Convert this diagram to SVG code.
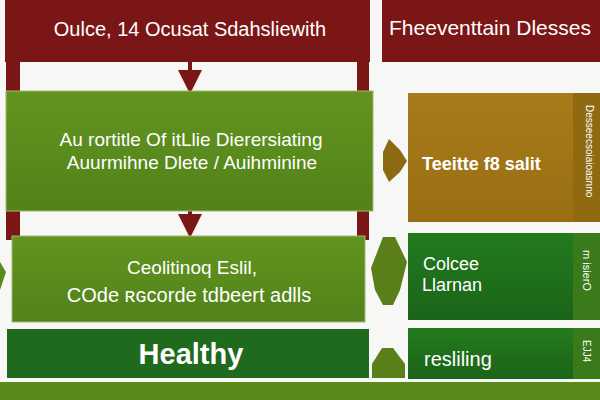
<svg xmlns="http://www.w3.org/2000/svg" width="600" height="400" viewBox="0 0 600 400">
<style>
.t{font-family:"Liberation Sans",Arial,sans-serif;fill:#ffffff;}
.red{fill:#7b1616;}
.conn{stroke:#7b1616;stroke-width:4;fill:none;}
</style>
<defs>
<linearGradient id="g1" x1="0" y1="0" x2="0" y2="1"><stop offset="0" stop-color="#62941f"/><stop offset="1" stop-color="#52821a"/></linearGradient>
<linearGradient id="gold" x1="0" y1="0" x2="0" y2="1"><stop offset="0" stop-color="#a77b1a"/><stop offset="1" stop-color="#9a6f12"/></linearGradient>
<linearGradient id="dg" x1="0" y1="0" x2="0" y2="1"><stop offset="0" stop-color="#237a1e"/><stop offset="1" stop-color="#1b6418"/></linearGradient>
<marker id="ah" markerWidth="6" markerHeight="6" refX="3" refY="3" orient="auto" markerUnits="strokeWidth"><path d="M0,0 L6,3 L0,6 Z" fill="#7b1616"/></marker>
</defs>
<rect width="600" height="400" fill="#f7f7f5"/>

<g id="frame">
<rect class="red" x="5" y="0" width="365" height="62"/>
<rect class="red" x="6" y="62" width="14" height="178"/>
<rect class="red" x="357" y="62" width="12" height="178"/>
<text class="t" x="190" y="36" font-size="20" text-anchor="middle">Oulce, 14 Ocusat Sdahsliewith</text>
</g>

<g id="connectors">
<line class="conn" x1="190" y1="62" x2="190" y2="82" marker-end="url(#ah)"/>
<line class="conn" x1="190" y1="211" x2="190" y2="226" marker-end="url(#ah)"/>
</g>

<g id="node-top-right">
<rect class="red" x="382" y="0" width="218" height="62"/>
<text class="t" x="490" y="35" font-size="21" text-anchor="middle">Fheeventtain Dlesses</text>
</g>

<g id="node-green1">
<rect x="6" y="91" width="367" height="120" fill="url(#g1)" stroke="#a8b870" stroke-width="1"/>
<text class="t" x="191" y="146" font-size="19" text-anchor="middle">Au rortitle Of itLlie Dierersiating</text>
<text class="t" x="192" y="169" font-size="19" text-anchor="middle">Auurmihne Dlete / Auihminine</text>
</g>

<g id="node-green2">
<rect x="12" y="236" width="353" height="86" fill="url(#g1)" stroke="#a8b870" stroke-width="1"/>
<text class="t" x="192" y="274" font-size="19" text-anchor="middle">Ceolitinoq Eslil,</text>
<text class="t" x="189" y="302" font-size="20" text-anchor="middle">COde ʀɢcorde tdbeert adlls</text>
</g>

<g id="node-healthy">
<rect x="7" y="329" width="362" height="49" fill="#1f6a1c"/>
<text class="t" x="191" y="364" font-size="29" font-weight="bold" text-anchor="middle">Healthy</text>
</g>

<g id="bottom-band">
<rect x="0" y="382" width="600" height="18" fill="#5a8a1e"/>
</g>

<g id="node-gold">
<rect x="408" y="93" width="192" height="129" fill="url(#gold)"/>
<rect x="573" y="93" width="27" height="129" fill="#8f6a10"/>
<polygon points="389,139 400,150 407,161 400,172 389,182 383,170 383,152" fill="#8c6a12"/>
<text class="t" x="422" y="170" font-size="18" font-weight="bold">Teeitte f8 salit</text>
<text class="t" x="586" y="105" font-size="10" transform="rotate(90 586 105)" fill="#f0e090">Desseecsoiaioasnno</text>
</g>

<g id="node-green-right1">
<rect x="408" y="233" width="192" height="87" fill="url(#dg)"/>
<rect x="573" y="233" width="27" height="87" fill="#3a7a1a"/>
<polygon points="383,237 395,237 407,262 400,290 393,305 383,305 375,290 371,268" fill="#5a7e18"/>
<text class="t" x="423" y="270" font-size="18" fill="#f4f4c0">Colcee</text>
<text class="t" x="422" y="291" font-size="18">Llarnan</text>
<text class="t" x="583" y="250" font-size="11" transform="rotate(90 583 250)">m isierO</text>
</g>

<g id="node-green-right2">
<rect x="408" y="328" width="192" height="51" fill="url(#dg)"/>
<rect x="573" y="328" width="27" height="51" fill="#3a7a1a"/>
<polygon points="382,348 393,348 405,364 405,378 372,378 372,364" fill="#5a7e18"/>
<text class="t" x="424" y="366" font-size="20">resliling</text>
<text class="t" x="583" y="340" font-size="10" transform="rotate(90 583 340)">EJJ4</text>
</g>

<g id="left-edge">
<polygon points="0,262 6,272 0,290" fill="#5a8a1e"/>
</g>
</svg>
